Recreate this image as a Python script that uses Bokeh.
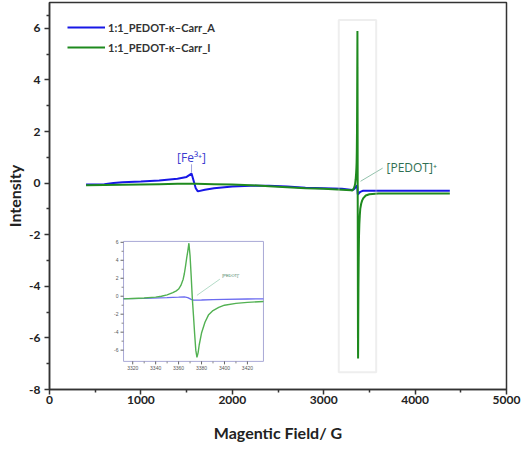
import numpy as np
from bokeh.plotting import figure
from bokeh.models import (Range1d, Legend, LegendItem, Label, BoxAnnotation,
                          FixedTicker, PrintfTickFormatter)
from bokeh.embed import file_html
from bokeh.resources import INLINE

# ---------------- data ----------------
series_names = ["1:1_PEDOT-κ–Carr_A", "1:1_PEDOT-κ–Carr_I"]

field_A = [400, 600, 700, 800, 1000, 1200, 1400, 1500, 1554, 1580, 1600, 1623,
           1700, 1800, 2000, 2200, 2400, 2600, 2800, 3000, 3200, 3312, 3330,
           3350, 3360, 3365, 3368, 3371, 3373, 3380, 3390, 3400, 3420, 3434,
           3500, 3700, 4000, 4200, 4380]
int_A = [-0.05, -0.04, 0.0, 0.03, 0.06, 0.10, 0.17, 0.24, 0.37, 0.05, -0.20, -0.32,
         -0.26, -0.20, -0.13, -0.10, -0.10, -0.13, -0.18, -0.20, -0.22, -0.27, -0.24,
         -0.16, -0.11, -0.08, -0.15, -0.35, -0.44, -0.42, -0.37, -0.34, -0.31, -0.30,
         -0.30, -0.30, -0.30, -0.30, -0.30]

field_I = [400, 600, 800, 1000, 1200, 1400, 1600, 1800, 2000, 2200, 2400, 2600,
           2800, 3000, 3200, 3300, 3312, 3320, 3330, 3340, 3345, 3350, 3355, 3358,
           3360, 3362, 3364, 3365, 3366, 3367, 3368, 3369, 3370, 3371, 3372, 3373,
           3374, 3375, 3376, 3377, 3378, 3380, 3383, 3386, 3390, 3395, 3400, 3410,
           3420, 3434, 3460, 3500, 3600, 3800, 4000, 4200, 4380]
int_I = [-0.08, -0.07, -0.06, -0.05, -0.04, -0.03, -0.03, -0.04, -0.05, -0.08,
         -0.12, -0.16, -0.20, -0.22, -0.26, -0.28, -0.29, -0.25, -0.20, -0.10,
         0.00, 0.15, 0.40, 0.60, 0.80, 1.20, 1.90, 2.50, 3.30, 4.20, 5.00, 5.90,
         4.50, 2.20, -0.30, -2.20, -4.20, -6.00, -6.80, -6.30, -5.40, -4.10, -2.90,
         -2.10, -1.60, -1.25, -1.00, -0.80, -0.68, -0.58, -0.48, -0.43, -0.40,
         -0.40, -0.40, -0.40, -0.40]

x_ticks = [0, 1000, 2000, 3000, 4000, 5000]
y_ticks = [-8, -6, -4, -2, 0, 2, 4, 6]
inset_x_ticks = [3320, 3340, 3360, 3380, 3400, 3420]
inset_y_ticks = [-6, -4, -2, 0, 2, 4, 6]

x_title = "Magentic Field/ G"
y_title = "Intensity"
label_fe = "[Fe³⁺]"
label_pedot = "[PEDOT]⁺"

# ---------------- layout constants ----------------
X_RANGE = (0, 5000)
Y_RANGE = (-8, 7)
HIGHLIGHT = dict(left=3165, right=3574, bottom=-7.33, top=6.32)
INSET_BOX = (810, 2341, -6.91, -2.26)      # inset frame in main data coords
INSET_X = (3312, 3434)                     # inset data window
INSET_Y = (-7.25, 6.1)

BLUE = "#1717e6"
GREEN = "#1e8a1e"
IN_BLUE = "#6b6bf0"
IN_GREEN = "#52b152"
FONT = "Lato"

p = figure(width=522, height=449, x_range=Range1d(*X_RANGE), y_range=Range1d(*Y_RANGE),
           output_backend="svg", toolbar_location=None,
           min_border_left=49, min_border_right=16, min_border_top=2, min_border_bottom=60)
p.grid.visible = False
p.outline_line_color = "#333333"
p.outline_line_width = 1.5
p.background_fill_color = "white"
p.border_fill_color = "white"

def minor_of(ticks):
    return [(a + b) / 2 for a, b in zip(ticks[:-1], ticks[1:])]

p.xaxis.ticker = FixedTicker(ticks=x_ticks, minor_ticks=minor_of(x_ticks))
p.yaxis.ticker = FixedTicker(ticks=y_ticks, minor_ticks=minor_of(y_ticks) + [6.5])
p.xaxis.formatter = PrintfTickFormatter(format="%d")
p.yaxis.formatter = PrintfTickFormatter(format="%d")
for ax in (p.xaxis[0], p.yaxis[0]):
    ax.axis_line_width = 1.5
    ax.axis_line_color = "#333333"
    ax.major_tick_in = 0
    ax.major_tick_out = 5
    ax.minor_tick_in = 0
    ax.minor_tick_out = 3
    ax.major_tick_line_width = 1.5
    ax.minor_tick_line_width = 1.5
    ax.major_tick_line_color = "#333333"
    ax.minor_tick_line_color = "#333333"
    ax.major_label_text_font = FONT
    ax.major_label_text_font_style = "bold"
    ax.major_label_text_font_size = "12px"
    ax.major_label_text_color = "#222222"
    ax.axis_label_text_font = FONT
    ax.axis_label_text_font_style = "bold"
    ax.axis_label_text_font_size = "16px"
    ax.axis_label_text_color = "#222222"
p.xaxis.axis_label = x_title
p.yaxis.axis_label = y_title
p.xaxis.major_label_standoff = 1
p.xaxis.axis_label_standoff = 16
p.yaxis.major_label_standoff = 4
p.yaxis.axis_label_standoff = 2

# highlight box around PEDOT signal
p.add_layout(BoxAnnotation(fill_alpha=0, line_color="#c8c8c8", line_width=2, **HIGHLIGHT))

# main curves
rA = p.line(field_A, int_A, line_color=BLUE, line_width=2)
rI = p.line(field_I, int_I, line_color=GREEN, line_width=2)

legend = Legend(items=[LegendItem(label=series_names[0], renderers=[rA]),
                       LegendItem(label=series_names[1], renderers=[rI])],
                location=(18, 333), padding=0, spacing=2, margin=0,
                glyph_width=38, glyph_height=18, label_height=18, label_standoff=3,
                border_line_alpha=0, background_fill_alpha=0,
                label_text_font=FONT, label_text_font_style="bold",
                label_text_font_size="11px", label_text_color="#333333")
p.add_layout(legend)

# annotations
fA = np.array(field_A, dtype=float); iA = np.array(int_A, dtype=float)
k = int(np.argmax(iA[:20]))
fe_x, fe_y = fA[k], iA[k]
p.segment(x0=[fe_x], y0=[fe_y + 0.03], x1=[fe_x], y1=[fe_y + 0.36],
          line_color="#a0a4dc", line_width=1)
p.add_layout(Label(x=fe_x, y=fe_y + 0.62, text=label_fe, text_align="center",
                   text_baseline="middle", text_font="Open Sans", text_font_size="12px",
                   text_color="#3b3bcf"))

fI = np.array(field_I, dtype=float); iI = np.array(int_I, dtype=float)
pk = fI[int(np.argmax(iI))]
p.segment(x0=[pk + 34], y0=[0.07], x1=[pk + 276], y1=[0.58],
          line_color="#92c2ac", line_width=1)
p.add_layout(Label(x=pk + 318, y=0.62, text=label_pedot, text_align="left",
                   text_baseline="middle", text_font="Open Sans", text_font_size="12px",
                   text_color="#2f6f52"))

# ---------------- inset: inset data mapped linearly into its box ----------------
bx0, bx1, by0, by1 = INSET_BOX
ix0, ix1 = INSET_X
iy0, iy1 = INSET_Y

def tx(v):
    return bx0 + (np.asarray(v, dtype=float) - ix0) * (bx1 - bx0) / (ix1 - ix0)

def ty(v):
    return by0 + (np.asarray(v, dtype=float) - iy0) * (by1 - by0) / (iy1 - iy0)

p.quad(left=[tx(ix0)], right=[tx(ix1)], bottom=[ty(iy0)], top=[ty(iy1)],
       fill_color="white", line_color="#a9a9d6", line_width=1)

mA = (fA >= ix0) & (fA <= ix1)
mI = (fI >= ix0) & (fI <= ix1)
p.line(tx(fA[mA]), ty(iA[mA]), line_color=IN_BLUE, line_width=1.3)
p.line(tx(fI[mI]), ty(iI[mI]), line_color=IN_GREEN, line_width=1.4)

ny, nx = len(inset_y_ticks), len(inset_x_ticks)
p.ray(x=tx([ix0] * ny), y=ty(inset_y_ticks), length=3, angle=np.pi,
      length_units="screen", line_color="#666666", line_width=1)
p.ray(x=tx(inset_x_ticks), y=ty([iy0] * nx), length=3, angle=-np.pi / 2,
      length_units="screen", line_color="#666666", line_width=1)
p.ray(x=tx([ix0] * (ny - 1)), y=ty(minor_of(inset_y_ticks)), length=2, angle=np.pi,
      length_units="screen", line_color="#888888", line_width=1)
p.ray(x=tx(minor_of(inset_x_ticks)), y=ty([iy0] * (nx - 1)), length=2, angle=-np.pi / 2,
      length_units="screen", line_color="#888888", line_width=1)
p.text(x=tx([ix0] * ny), y=ty(inset_y_ticks), text=[str(t) for t in inset_y_ticks],
       x_offset=-5, text_align="right", text_baseline="middle", text_font_size="5px",
       text_color="#555555")
p.text(x=tx(inset_x_ticks), y=ty([iy0] * nx), text=[str(t) for t in inset_x_ticks],
       y_offset=5, text_align="center", text_baseline="top", text_font_size="5px",
       text_color="#555555")

p.segment(x0=tx([pk + 7]), y0=ty([0.1]), x1=tx([pk + 27]), y1=ty([1.9]),
          line_color="#b4dcc8", line_width=1)
p.text(x=tx([pk + 29]), y=ty([2.3]), text=[label_pedot], text_align="left",
       text_baseline="middle", text_font_size="4px", text_color="#3a7a5a")

open("out.html", "w").write(file_html(p, INLINE))
